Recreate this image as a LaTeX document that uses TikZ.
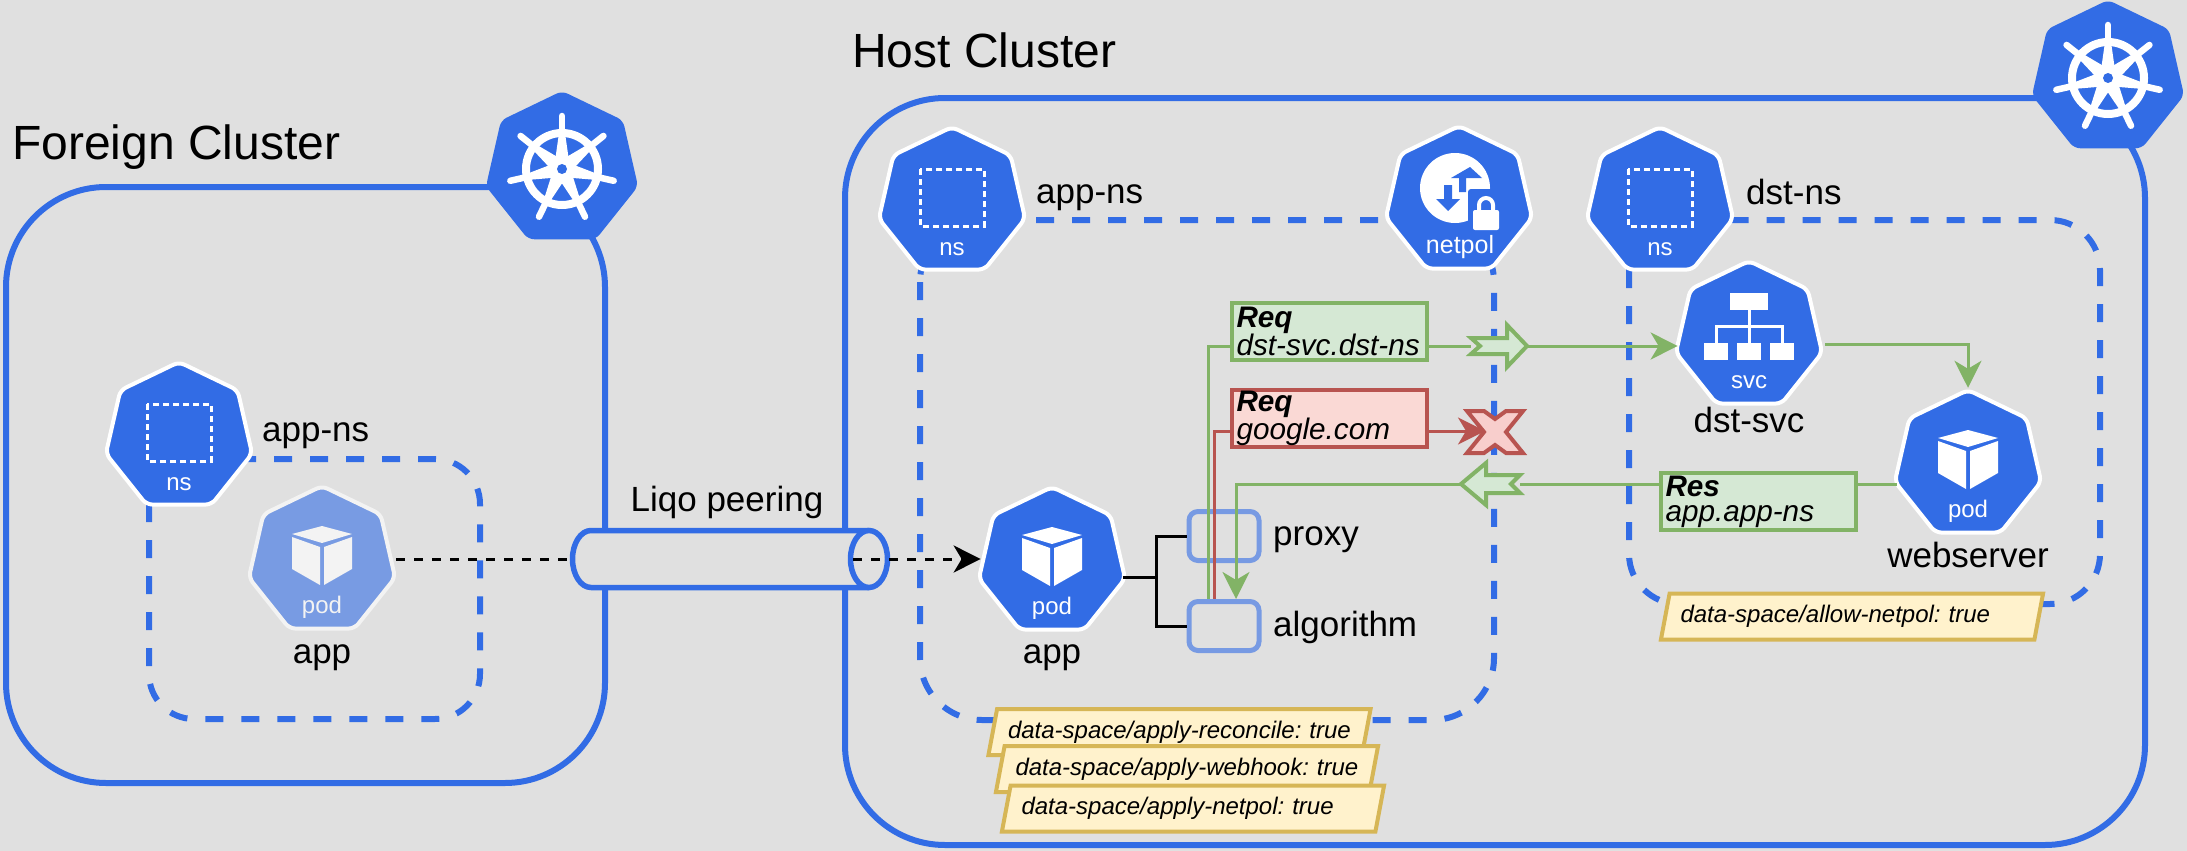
\documentclass[tikz,border=0pt]{standalone}
\usepackage{fontspec}
\usepackage{tikz}
\usetikzlibrary{shapes.geometric,arrows.meta}
\setmainfont{Liberation Sans}

\definecolor{kubeblue}{HTML}{326CE5}
\definecolor{kubefaded}{HTML}{789BE3}
\definecolor{whitefaded}{HTML}{F3F3F3}
\definecolor{paper}{HTML}{E0E0E0}
\definecolor{greenline}{HTML}{82B366}
\definecolor{greenfill}{HTML}{D5E8D4}
\definecolor{redline}{HTML}{B85450}
\definecolor{redfill}{HTML}{FAD9D5}
\definecolor{redcross}{HTML}{F8CECC}
\definecolor{noteline}{HTML}{D6B656}
\definecolor{notefill}{HTML}{FFF2CC}

\tikzset{
    clusterbox/.style={draw=kubeblue, line width=6pt, rounded corners=100pt},
    nsbox/.style={draw=kubeblue, line width=6pt, dash pattern=on 18pt off 18pt},
    kube/.style={regular polygon, regular polygon sides=7, minimum size=150pt, inner sep=0pt, rounded corners=6pt, draw=white, line width=4pt, fill=kubeblue},
    kubebig/.style={kube, minimum size=156pt, draw=none},
    kubetext/.style={font=\fontsize{24}{24}\selectfont, inner sep=0pt},
    caption/.style={font=\fontsize{35}{35}\selectfont, inner sep=0pt, text height=25pt, text depth=7pt},
    title/.style={font=\fontsize{48}{48}\selectfont, inner sep=0pt},
    container/.style={draw=kubeblue, draw opacity=0.6, line width=5pt, rounded corners=9pt, minimum width=70pt, minimum height=49pt},
    flow/.style={line width=3pt, color=greenline},
    flowbad/.style={line width=3pt, color=redline},
    rpc/.style={line width=3pt, color=black, dash pattern=on 9pt off 9pt},
    reqbox/.style={line width=4pt, minimum width=195pt, minimum height=57pt, text width=186pt, align=left, inner sep=0pt, font=\frenchspacing\fontsize{29.7}{25}\selectfont\itshape},
    reqgood/.style={reqbox, draw=greenline, fill=greenfill},
    reqbad/.style={reqbox, draw=redline, fill=redfill},
    fatarrow/.style={draw=greenline, fill=greenfill, line width=4pt},
    note/.style={trapezium, trapezium left angle=70, trapezium right angle=110, trapezium stretches=true, draw=noteline, fill=notefill, line width=4pt, minimum width=383pt, minimum height=46pt, text width=343pt, align=left, inner sep=0pt, font=\frenchspacing\fontsize{24}{24}\selectfont\itshape},
    tube/.style={draw=kubeblue, line width=5.5pt, fill=paper}
}

\newcommand{\nsicon}[1]{
    \begin{scope}[shift={(#1)}]
        \draw[white, line width=3pt, dash pattern=on 6pt off 4pt] (-32,-33) rectangle (32,24);
        \node[kubetext, text=white] (#1-text) at (0,47) {ns};
    \end{scope}
}

\newcommand{\podicon}[2][white]{
    \begin{scope}[shift={(#2)}]
        \fill[#1] (0,-35) -- (30,-27) -- (0,-18) -- (-30,-27) -- cycle;
        \fill[#1] (-30,-24) -- (-2,-14) -- (-2,24) -- (-30,8) -- cycle;
        \fill[#1] (30,-24) -- (2,-14) -- (2,24) -- (30,8) -- cycle;
        \node[kubetext, text=#1] (#2-text) at (0,46) {pod};
    \end{scope}
}

\newcommand{\svcicon}[1]{
    \begin{scope}[shift={(#1)}]
        \draw[white, line width=3pt] (0,-35) -- (0,15);
        \draw[white, line width=3pt] (-33,15) -- (-33,-10) -- (33,-10) -- (33,15);
        \fill[white] (-19,-43) rectangle (19,-26);
        \fill[white] (-45,7) rectangle (-21,24);
        \fill[white] (-12,7) rectangle (12,24);
        \fill[white] (21,7) rectangle (45,24);
        \node[kubetext, text=white] (#1-text) at (0,46) {svc};
    \end{scope}
}

\newcommand{\wheelicon}[1]{
    \begin{scope}[shift={(#1)}]
        \draw[white, line width=8pt] (0,0) circle (36pt);
        \foreach \k in {0,...,6} {
            \fill[white, rotate=\k*360/7] (-7,-8) -- (7,-8) -- (3,-36) -- (-3,-36) -- cycle;
            \draw[white, line width=6.5pt, line cap=round, rotate=\k*360/7] (0,-36) -- (0,-53);
        }
        \fill[white] (0,0) circle (12pt);
        \fill[kubeblue] (0,0) circle (5pt);
    \end{scope}
}

\begin{document}
\begin{tikzpicture}[x=1pt, y=-1pt]
    \fill[paper] (0,0) rectangle (2187,851);

    \draw[clusterbox] (6,187) rectangle (605,783);
    \draw[clusterbox] (845,98) rectangle (2145,845);
    \draw[nsbox, rounded corners=45pt] (149,459) rectangle (480,719);
    \draw[nsbox, rounded corners=62pt] (920,220) rectangle (1494,720);
    \draw[nsbox, rounded corners=50pt] (1629,220) rectangle (2100,604);

    \node[title, anchor=west] (foreigntitle) at (12,147) {Foreign Cluster};
    \node[title, anchor=west] (hosttitle) at (852,50) {Host Cluster};

    \node[kubebig] (foreignkube) at (562,169) {};
    \wheelicon{foreignkube}
    \node[kubebig] (hostkube) at (2108,78) {};
    \wheelicon{hostkube}

    \node[kube] (nsforeign) at (179,437) {};
    \nsicon{nsforeign}
    \node[caption, anchor=west] (nsforeignlabel) at (262,432) {app-ns};
    \node[kube, fill=kubefaded, draw=whitefaded] (podforeign) at (322,561) {};
    \podicon[whitefaded]{podforeign}
    \node[caption] (podforeignlabel) at (322,654) {app};

    \node[kube] (nsapp) at (952,202) {};
    \nsicon{nsapp}
    \node[caption, anchor=west] (nsapplabel) at (1036,194) {app-ns};

    \node[kube] (netpol) at (1459,201) {};
    \begin{scope}[shift={(netpol)}]
        \fill[white] (-4,-13) circle (35pt);
        \fill[kubeblue] (11,-34) -- (23,-23) -- (15,-23) -- (15,-23) -- (7,-23) -- (7,-9) -- (0,-9) -- (0,-23) -- (-8,-23) -- cycle;
        \fill[kubeblue] (-11,10) -- (-23,-2) -- (-15,-2) -- (-15,-16) -- (-7,-16) -- (-7,-2) -- (1,-2) -- cycle;
        \fill[kubeblue, rounded corners=3pt] (9,-12) rectangle (45,34);
        \fill[white, rounded corners=2pt] (14,9) rectangle (40,29);
        \draw[white, line width=4pt] (20,10) -- (20,4) arc[start angle=180, end angle=0, radius=7pt] -- (34,10);
        \node[kubetext, text=white, font=\fontsize{25}{25}\selectfont] (netpol-text) at (1,46) {netpol};
    \end{scope}

    \node[kube] (nsdst) at (1660,202) {};
    \nsicon{nsdst}
    \node[caption, anchor=west] (nsdstlabel) at (1746,195) {dst-ns};

    \node[kube] (podapp) at (1052,562) {};
    \podicon{podapp}
    \node[caption] (podapplabel) at (1052,654) {app};

    \node[kube] (svc) at (1749,336) {};
    \svcicon{svc}
    \node[caption] (svclabel) at (1749,423) {dst-svc};

    \node[kube] (webserver) at (1968,465) {};
    \podicon{webserver}
    \node[caption] (webserverlabel) at (1968,558) {webserver};

    \draw[tube] (869,530.5) -- (591,530.5) arc[start angle=90, end angle=270, x radius=18.5pt, y radius=28.5pt] -- (869,587.5);
    \draw[tube] (869,559) ellipse [x radius=18.5pt, y radius=28.5pt];
    \node[caption] (peeringlabel) at (727,502) {Liqo peering};
    \coordinate (peerstart) at (570,559);
    \coordinate (peerend) at (853,559);
    \draw[rpc] ([xshift=3pt]podforeign.east |- peerstart) -- (peerstart);
    \draw[rpc, -{Stealth[length=27pt, width=27pt, inset=8pt]}] (peerend) -- (podapp.west |- peerend);

    \node[container] (proxy) at (1224,536) {};
    \node[container] (algorithm) at (1224,626) {};
    \node[caption, anchor=west] (proxylabel) at (1273,536) {proxy};
    \node[caption, anchor=west] (algorithmlabel) at (1273,627) {algorithm};

    \coordinate (fork) at (1156,577);
    \draw[line width=3pt] (proxy.west) -| (fork) |- (algorithm.west);
    \draw[line width=3pt] (podapp.east |- fork) -- (fork);

    \coordinate (fatreqtail) at (1471,346);
    \coordinate (fatreqtip) at (1527,346);
    \coordinate (fatrestip) at (1461,484);
    \coordinate (fatrestail) at (1520,484);
    \coordinate (crosstip) at (1485,431);

    \draw[flow] (fatreqtail) -| ([xshift=-16pt]algorithm.north);
    \draw[flowbad, {Stealth[length=27pt, width=27pt, inset=8pt]}-] (crosstip) -| ([xshift=-10pt]algorithm.north);
    \draw[flow, -{Stealth[length=27pt, width=27pt, inset=8pt]}] (fatrestip) -| ([xshift=12pt]algorithm.north);
    \draw[flow, -{Stealth[length=27pt, width=27pt, inset=8pt]}] (fatreqtip) -- (svc.west |- fatreqtip);
    \draw[flow, -{Stealth[length=27pt, width=27pt, inset=8pt]}] ([xshift=5pt,yshift=-8pt]svc.east) -| (webserver.north);
    \draw[flow] (webserver.west |- fatrestail) -- (fatrestail);

    \node[reqgood] (reqallow) at (1329.5,331.5) {\textbf{Req}\\dst-svc.dst-ns};
    \node[reqbad] (reqdeny) at (1329.5,418.5) {\textbf{Req}\\google.com};
    \node[reqgood] (resallow) at (1758.5,501.5) {\textbf{Res}\\app.app-ns};

    \draw[fatarrow] (fatreqtip) -- (1507,325) -- (1507,338) -- (1471,338) -- (1480,346) -- (1471,354) -- (1507,354) -- (1507,367) -- cycle;
    \draw[fatarrow] (fatrestip) -- (1486,463) -- (1486,475) -- (1520,475) -- (1511,484) -- (1520,493) -- (1486,493) -- (1486,505) -- cycle;
    \begin{scope}[shift={(1495,432)}]
        \draw[draw=redline, fill=redcross, line width=4pt] (-28,-21) -- (-11,-21) -- (0,-13) -- (11,-21) -- (28,-21) -- (11,0) -- (28,21) -- (11,21) -- (0,13) -- (-11,21) -- (-28,21) -- (-11,0) -- cycle;
    \end{scope}

    \node[note] (allownetpol) at (1852,616.5) {data-space/allow-netpol: true};
    \node[note] (applyreconcile) at (1179.5,732) {\raisebox{3pt}{data-space/apply-reconcile: true}};
    \node[note] (applywebhook) at (1187,769) {\raisebox{1pt}{data-space/apply-webhook: true}};
    \node[note] (applynetpol) at (1193,808.5) {\raisebox{2pt}{data-space/apply-netpol: true}};
\end{tikzpicture}
\end{document}
